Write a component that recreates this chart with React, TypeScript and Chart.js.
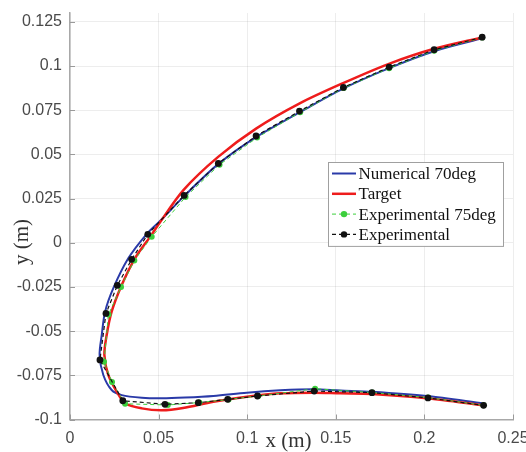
import React, { useEffect, useRef } from "react";
import { Chart, registerables } from "chart.js";

Chart.register(...registerables);

// ---- Tick labels ----
const X_TICKS = [0, 0.05, 0.1, 0.15, 0.2, 0.25];
const Y_TICKS = [-0.1, -0.075, -0.05, -0.025, 0, 0.025, 0.05, 0.075, 0.1, 0.125];

// ---- Series labels ----
const SERIES_LABELS = ["Numerical 70deg", "Target", "Experimental 75deg", "Experimental"];

// ---- Numerical 70deg (blue) ----
const NUM70_X = [0.2332, 0.2055, 0.1801, 0.1541, 0.1293, 0.105, 0.0836, 0.0644, 0.0508, 0.0435, 0.0329, 0.0244, 0.0198, 0.0179, 0.0167, 0.0188, 0.0235, 0.0292, 0.0405, 0.0518, 0.0649, 0.0809, 0.0998, 0.1186, 0.1374, 0.1525, 0.1704, 0.2014, 0.2334];
const NUM70_Y = [0.1158, 0.1084, 0.0988, 0.0872, 0.0736, 0.0598, 0.0445, 0.0264, 0.0123, 0.0052, -0.0088, -0.0258, -0.039, -0.0522, -0.0635, -0.0748, -0.0833, -0.0862, -0.0877, -0.088, -0.0876, -0.0867, -0.0848, -0.0835, -0.0829, -0.0836, -0.0843, -0.0867, -0.0909];

// ---- Target (red) ----
const TARGET_X = [0.2332, 0.205, 0.1796, 0.1541, 0.1299, 0.105, 0.0836, 0.064, 0.0497, 0.0463, 0.0367, 0.0292, 0.0235, 0.0207, 0.0194, 0.0216, 0.0264, 0.0311, 0.0405, 0.0518, 0.0638, 0.0809, 0.0998, 0.1186, 0.1374, 0.1525, 0.1704, 0.2014, 0.2334];
const TARGET_Y = [0.1163, 0.1096, 0.1011, 0.0903, 0.079, 0.0646, 0.0486, 0.0298, 0.01, 0.0049, -0.0088, -0.0239, -0.039, -0.0522, -0.0635, -0.0748, -0.0843, -0.0908, -0.0937, -0.0948, -0.0935, -0.0899, -0.0871, -0.0852, -0.0848, -0.0852, -0.0856, -0.088, -0.092];

// ---- Experimental 75deg (green) ----
const EXP75_X = [0.2326, 0.2055, 0.1801, 0.1544, 0.1299, 0.1056, 0.0844, 0.0652, 0.0461, 0.0363, 0.0288, 0.0217, 0.0192, 0.0237, 0.0311, 0.0552, 0.073, 0.0895, 0.1062, 0.1383, 0.1705, 0.2021, 0.2334];
const EXP75_Y = [0.1161, 0.1087, 0.0988, 0.0875, 0.0739, 0.0595, 0.0442, 0.0259, 0.0034, -0.01, -0.0251, -0.0406, -0.0673, -0.0788, -0.0911, -0.0918, -0.0904, -0.0887, -0.0867, -0.0826, -0.0847, -0.0876, -0.092];

// ---- Experimental (black) ----
const EXP_X = [0.2326, 0.2055, 0.1801, 0.1543, 0.1295, 0.105, 0.0837, 0.0644, 0.0439, 0.0348, 0.0267, 0.0203, 0.0169, 0.0298, 0.0536, 0.0724, 0.089, 0.1058, 0.1378, 0.1704, 0.202, 0.2334];
const EXP_Y = [0.1163, 0.1092, 0.0994, 0.0879, 0.0745, 0.0604, 0.0449, 0.0268, 0.0048, -0.0094, -0.0241, -0.04, -0.0663, -0.0894, -0.0914, -0.0905, -0.0886, -0.0867, -0.0839, -0.0848, -0.0878, -0.092];

const BLUE = "#2a3aa8";
const RED = "#ee1c1c";
const GREEN = "#3ccf3c";
const BLACK = "#111111";

const toPts = (xs: number[], ys: number[]) => xs.map((x, i) => ({ x, y: ys[i] }));
const fmt = (v: number) => String(+Number(v).toFixed(3));

const decorPlugin = {
  id: "decor",
  afterDraw(chart: any) {
    const { ctx, chartArea, scales } = chart;
    const { left, right, top, bottom } = chartArea;
    const xs = scales.x;
    const ys = scales.y;
    ctx.save();
    // inward tick marks
    ctx.strokeStyle = "#9a9a9a";
    ctx.lineWidth = 1;
    ctx.beginPath();
    X_TICKS.forEach((v) => {
      const px = Math.round(xs.getPixelForValue(v)) + 0.5;
      ctx.moveTo(px, bottom);
      ctx.lineTo(px, bottom - 5);
    });
    Y_TICKS.forEach((v) => {
      const py = Math.round(ys.getPixelForValue(v)) + 0.5;
      ctx.moveTo(left, py);
      ctx.lineTo(left + 5, py);
    });
    ctx.stroke();

    // axis titles
    ctx.fillStyle = "#333333";
    ctx.font = "21px 'Liberation Serif', serif";
    ctx.textAlign = "center";
    ctx.textBaseline = "middle";
    ctx.fillText("x (m)", (left + right) / 2 - 3, 441);
    ctx.save();
    ctx.translate(22, 242);
    ctx.rotate(-Math.PI / 2);
    ctx.fillText("y (m)", 0, 0);
    ctx.restore();

    // legend
    const bx = 328, by = 162, bw = 175, rowH = 20.3;
    const bh = 11.5 * 2 + rowH * 3;
    ctx.fillStyle = "#ffffff";
    ctx.fillRect(bx, by, bw, bh);
    ctx.strokeStyle = "#a0a0a0";
    ctx.lineWidth = 1;
    ctx.strokeRect(bx + 0.5, by + 0.5, bw, bh);
    const styles = [
      { color: BLUE, width: 2, dash: [] as number[], marker: false },
      { color: RED, width: 2.5, dash: [] as number[], marker: false },
      { color: GREEN, width: 1, dash: [4, 3], marker: true },
      { color: BLACK, width: 1.2, dash: [4, 3], marker: true },
    ];
    ctx.font = "17px 'Liberation Serif', serif";
    ctx.textAlign = "left";
    ctx.textBaseline = "middle";
    SERIES_LABELS.forEach((lab, i) => {
      const cy = by + 11.5 + i * rowH;
      const s = styles[i];
      ctx.strokeStyle = s.color;
      ctx.lineWidth = s.width;
      ctx.setLineDash(s.dash);
      ctx.beginPath();
      ctx.moveTo(332, cy);
      ctx.lineTo(356, cy);
      ctx.stroke();
      ctx.setLineDash([]);
      if (s.marker) {
        ctx.fillStyle = s.color;
        ctx.beginPath();
        ctx.arc(344, cy, 3.2, 0, Math.PI * 2);
        ctx.fill();
      }
      ctx.fillStyle = "#111111";
      ctx.fillText(lab, 358.5, cy + 1);
    });
    ctx.restore();
  },
};

export default function App() {
  const ref = useRef<HTMLCanvasElement | null>(null);
  useEffect(() => {
    if (!ref.current) return;
    const chart = new Chart(ref.current, {
      type: "scatter",
      data: {
        datasets: [
          {
            label: SERIES_LABELS[0],
            data: toPts(NUM70_X, NUM70_Y),
            showLine: true,
            borderColor: BLUE,
            borderWidth: 2,
            pointRadius: 0,
            tension: 0.3,
            order: 4,
          },
          {
            label: SERIES_LABELS[1],
            data: toPts(TARGET_X, TARGET_Y),
            showLine: true,
            borderColor: RED,
            borderWidth: 2.5,
            pointRadius: 0,
            tension: 0.3,
            order: 3,
          },
          {
            label: SERIES_LABELS[2],
            data: toPts(EXP75_X, EXP75_Y),
            showLine: true,
            borderColor: GREEN,
            borderWidth: 1,
            borderDash: [4, 3],
            pointRadius: 3,
            pointBackgroundColor: GREEN,
            pointBorderColor: GREEN,
            pointBorderWidth: 0,
            tension: 0,
            order: 2,
          },
          {
            label: SERIES_LABELS[3],
            data: toPts(EXP_X, EXP_Y),
            showLine: true,
            borderColor: BLACK,
            borderWidth: 1.2,
            borderDash: [4, 3],
            pointRadius: 3.4,
            pointBackgroundColor: BLACK,
            pointBorderColor: BLACK,
            pointBorderWidth: 0,
            tension: 0,
            order: 1,
          },
        ],
      },
      options: {
        animation: false,
        responsive: false,
        devicePixelRatio: 1,
        layout: { padding: { left: 0, right: 13, top: 13, bottom: 0 } },
        plugins: { legend: { display: false }, tooltip: { enabled: false } },
        scales: {
          x: {
            type: "linear",
            min: 0,
            max: 0.25,
            afterBuildTicks: (s: any) => {
              s.ticks = X_TICKS.map((v) => ({ value: v }));
            },
            afterFit: (s: any) => {
              s.height = 32.5;
              s.paddingLeft = 0;
              s.paddingRight = 0;
            },
            grid: { color: "rgba(0,0,0,0.07)", drawTicks: false, tickLength: 0 },
            border: { color: "#a8a8a8", width: 1.5 },
            ticks: {
              padding: 9,
              color: "#4a4a4a",
              font: { family: "'Liberation Sans', Arial, sans-serif", size: 16 },
              maxRotation: 0,
              autoSkip: false,
              callback: (v: any) => fmt(v),
            },
          },
          y: {
            type: "linear",
            min: -0.1,
            max: 0.13,
            afterBuildTicks: (s: any) => {
              s.ticks = Y_TICKS.map((v) => ({ value: v }));
            },
            afterFit: (s: any) => {
              s.width = 70;
              s.paddingTop = 0;
              s.paddingBottom = 0;
            },
            grid: { color: "rgba(0,0,0,0.07)", drawTicks: false, tickLength: 0 },
            border: { color: "#a8a8a8", width: 1.5 },
            ticks: {
              padding: 8,
              color: "#4a4a4a",
              font: { family: "'Liberation Sans', Arial, sans-serif", size: 16 },
              autoSkip: false,
              callback: (v: any) => fmt(v),
            },
          },
        },
      },
      plugins: [decorPlugin],
    } as any);
    return () => chart.destroy();
  }, []);
  return (
    <div style={{ position: "absolute", left: 0, top: 0, width: 526, height: 452, background: "#fff" }}>
      <canvas ref={ref} width={526} height={452} style={{ display: "block", width: 526, height: 452 }} />
    </div>
  );
}
